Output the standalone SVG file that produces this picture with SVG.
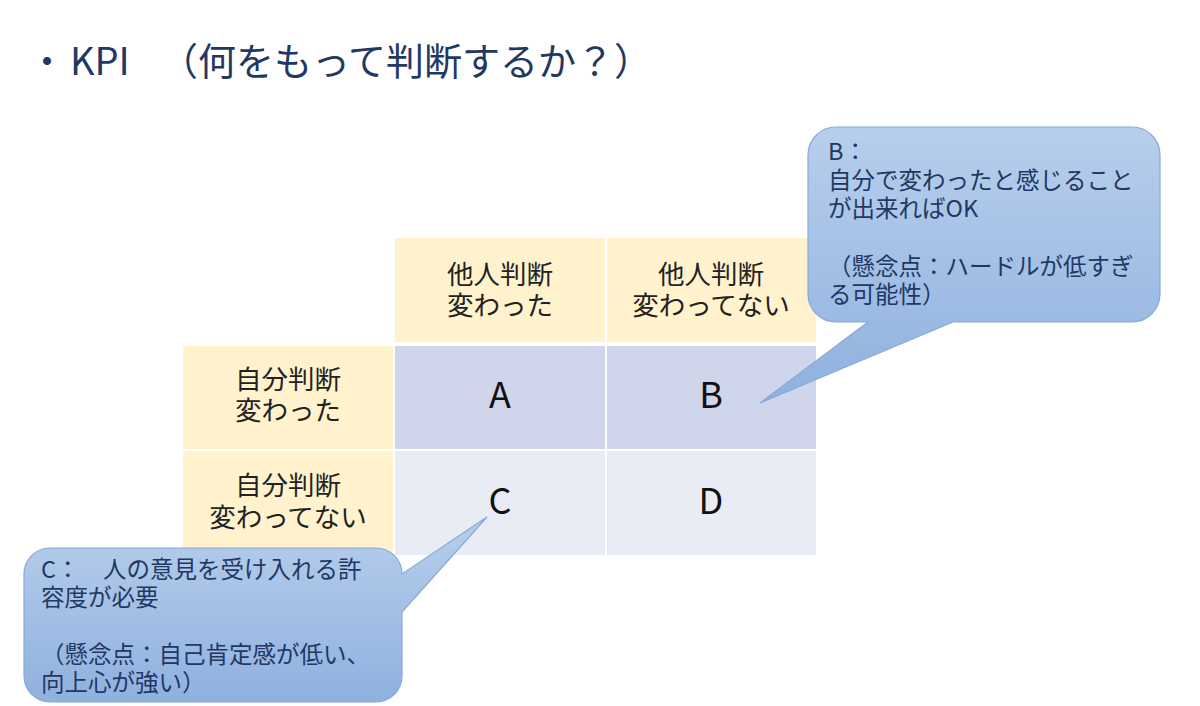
<svg xmlns="http://www.w3.org/2000/svg" width="1200" height="706" viewBox="0 0 1200 706">
<style>
.t{font-family:"Noto Sans CJK JP","Noto Sans",sans-serif;}
.title{font-size:38px;fill:#1F3864;}
.hdr{fill:#FFF2CC;}
.c1{fill:#CFD5EA;}
.c2{fill:#E9EBF5;}
.lbl{font-size:26.5px;fill:#222;text-anchor:middle;}
.big{font-size:36px;fill:#111;text-anchor:middle;}
.co{fill:url(#g);stroke:#86A9DA;stroke-width:1.2;}
.cot{font-size:23.5px;fill:#1F3864;}
</style>
<defs>
<linearGradient id="g" x1="0" y1="0" x2="0" y2="1">
<stop offset="0" stop-color="#B8CFEC"/>
<stop offset="1" stop-color="#8FB1DF"/>
</linearGradient>
</defs>
<rect width="1200" height="706" fill="#fff"/>
<g id="title" class="t title">
<text x="28" y="75">・</text>
<text x="70" y="75">KPI</text>
<text x="160" y="75">（何をもって判断するか？）</text>
</g>
<g id="table">
<g id="h1"><rect class="hdr" x="395" y="238" width="210" height="104"/><text class="t lbl"><tspan x="500" y="284">他人判断</tspan><tspan x="500" y="315">変わった</tspan></text></g>
<g id="h2"><rect class="hdr" x="607" y="238" width="209" height="104"/><text class="t lbl"><tspan x="711" y="284">他人判断</tspan><tspan x="711" y="315">変わってない</tspan></text></g>
<g id="r1"><rect class="hdr" x="183" y="346" width="210" height="103"/><text class="t lbl"><tspan x="288" y="389">自分判断</tspan><tspan x="288" y="420">変わった</tspan></text></g>
<g id="r2"><rect class="hdr" x="183" y="451" width="210" height="104"/><text class="t lbl"><tspan x="288" y="495">自分判断</tspan><tspan x="288" y="527">変わってない</tspan></text></g>
<g id="A"><rect class="c1" x="395" y="346" width="210" height="103"/><text class="t big" x="500" y="408">A</text></g>
<g id="B"><rect class="c1" x="607" y="346" width="209" height="103"/><text class="t big" x="711" y="408">B</text></g>
<g id="C"><rect class="c2" x="395" y="451" width="210" height="104"/><text class="t big" x="500" y="514">C</text></g>
<g id="D"><rect class="c2" x="607" y="451" width="209" height="104"/><text class="t big" x="711" y="514">D</text></g>
</g>
<g id="callout-b">
<path class="co" d="M836,127 H1132 A28,28 0 0 1 1160,155 V294 A28,28 0 0 1 1132,322 H953 L760,403 L868,322 H836 A28,28 0 0 1 808,294 V155 A28,28 0 0 1 836,127 Z"/>
<text class="t cot"><tspan x="828" y="160">B：</tspan><tspan x="828" y="189">自分で変わったと感じること</tspan><tspan x="828" y="217">が出来ればOK</tspan><tspan x="828" y="275">（懸念点：ハードルが低すぎ</tspan><tspan x="828" y="303">る可能性）</tspan></text>
</g>
<g id="callout-c">
<path class="co" d="M50,548 H376 A26,26 0 0 1 402,574 L487,517 L402,612 V676 A26,26 0 0 1 376,702 H50 A26,26 0 0 1 24,676 V574 A26,26 0 0 1 50,548 Z"/>
<text class="t cot"><tspan x="41" y="578">C：　人の意見を受け入れる許</tspan><tspan x="41" y="606">容度が必要</tspan><tspan x="41" y="663">（懸念点：自己肯定感が低い、</tspan><tspan x="41" y="691">向上心が強い）</tspan></text>
</g>
</svg>
